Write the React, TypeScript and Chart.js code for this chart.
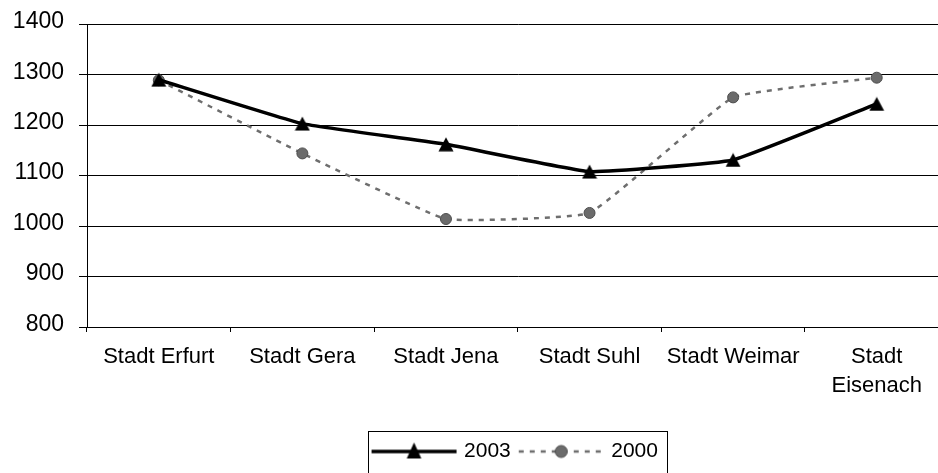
import React, { useEffect, useRef } from 'react';
import { Chart, registerables } from 'chart.js';

Chart.register(...registerables);

const categories: (string | string[])[] = [
  'Stadt Erfurt',
  'Stadt Gera',
  'Stadt Jena',
  'Stadt Suhl',
  'Stadt Weimar',
  ['Stadt', 'Eisenach'],
];
const seriesLabels = ['2003', '2000'];
const values2003 = [1290, 1203, 1162, 1108, 1131, 1242];
const values2000 = [1289, 1144, 1014, 1026, 1255, 1294];
const yMin = 800;
const yMax = 1400;
const yStep = 100;

const FONT = "'Liberation Sans', Arial, sans-serif";

function makeTriangle(w: number, h: number): HTMLCanvasElement {
  const c = document.createElement('canvas');
  c.width = w;
  c.height = h;
  const ctx = c.getContext('2d')!;
  ctx.fillStyle = '#000';
  ctx.beginPath();
  ctx.moveTo(w / 2, 0.5);
  ctx.lineTo(w - 0.5, h - 0.5);
  ctx.lineTo(0.5, h - 0.5);
  ctx.closePath();
  ctx.fill();
  return c;
}

function makeLegendSample(kind: 'solid' | 'dashed'): HTMLCanvasElement {
  const c = document.createElement('canvas');
  c.width = 90;
  c.height = 24;
  const ctx = c.getContext('2d')!;
  const y = 12;
  const x0 = 1;
  const x1 = 86;
  const cx = (x0 + x1) / 2;
  if (kind === 'solid') {
    ctx.strokeStyle = '#000';
    ctx.lineWidth = 3.5;
    ctx.beginPath();
    ctx.moveTo(x0, y);
    ctx.lineTo(x1, y);
    ctx.stroke();
    ctx.fillStyle = '#000';
    ctx.beginPath();
    ctx.moveTo(cx, y - 9);
    ctx.lineTo(cx + 7.3, y + 7);
    ctx.lineTo(cx - 7.3, y + 7);
    ctx.closePath();
    ctx.fill();
  } else {
    ctx.strokeStyle = '#6e6e6e';
    ctx.lineWidth = 2.5;
    ctx.setLineDash([5, 6]);
    ctx.beginPath();
    ctx.moveTo(x0, y);
    ctx.lineTo(x1, y);
    ctx.stroke();
    ctx.setLineDash([]);
    ctx.fillStyle = '#6b6b6b';
    ctx.strokeStyle = '#4d4d4d';
    ctx.lineWidth = 1;
    ctx.beginPath();
    ctx.arc(cx, y, 6, 0, Math.PI * 2);
    ctx.fill();
    ctx.stroke();
  }
  return c;
}

const legendBorder = {
  id: 'legendBorder',
  afterDraw(chart: any) {
    const lg = chart.legend;
    if (!lg || !lg.legendHitBoxes || !lg.legendHitBoxes.length) return;
    const hb = lg.legendHitBoxes;
    const first = hb[0];
    const last = hb[hb.length - 1];
    const left = first.left - 10;
    const right = last.left + last.width + 9;
    const top = first.top - 10;
    const bottom = top + 60;
    const ctx = chart.ctx;
    ctx.save();
    ctx.strokeStyle = '#000';
    ctx.lineWidth = 1;
    ctx.strokeRect(Math.round(left) + 0.5, Math.round(top) + 0.5, Math.round(right - left), Math.round(bottom - top));
    ctx.restore();
  },
};

export default function App() {
  const ref = useRef<HTMLCanvasElement>(null);

  useEffect(() => {
    if (!ref.current) return;
    const tri = makeTriangle(16, 15);
    const samples = [makeLegendSample('solid'), makeLegendSample('dashed')];
    Chart.defaults.font.family = FONT;

    const chart = new Chart(ref.current, {
      type: 'line',
      data: {
        labels: categories as any,
        datasets: [
          {
            label: seriesLabels[0],
            data: values2003,
            borderColor: '#000',
            backgroundColor: '#000',
            borderWidth: 3.5,
            tension: 0.1,
            pointStyle: tri as any,
            pointRadius: 8,
          },
          {
            label: seriesLabels[1],
            data: values2000,
            borderColor: '#6e6e6e',
            backgroundColor: '#6b6b6b',
            borderWidth: 2.5,
            borderDash: [5, 6],
            tension: 0.1,
            pointStyle: 'circle',
            pointRadius: 5.5,
            pointBackgroundColor: '#6b6b6b',
            pointBorderColor: '#4d4d4d',
            pointBorderWidth: 1,
          },
        ],
      },
      options: {
        responsive: false,
        animation: false,
        devicePixelRatio: 1,
        layout: { padding: { top: 10, left: 0, right: 10, bottom: 8 } },
        plugins: {
          tooltip: { enabled: false },
          legend: {
            position: 'bottom',
            fullSize: false,
            labels: {
              usePointStyle: true,
              pointStyleWidth: 76,
              padding: 14,
              color: '#000',
              font: { size: 21, family: FONT },
              generateLabels: (ch: any) => {
                const base = Chart.defaults.plugins.legend.labels.generateLabels(ch);
                return base.map((item: any, i: number) => ({ ...item, pointStyle: samples[i] }));
              },
            },
          },
        },
        scales: {
          x: {
            type: 'category',
            offset: true,
            afterFit: (s: any) => {
              s.height = 100;
            },
            grid: {
              offset: true,
              drawOnChartArea: false,
              drawTicks: true,
              tickLength: 5,
              color: '#000',
            },
            border: { color: '#000', width: 1 },
            ticks: {
              color: '#000',
              autoSkip: false,
              maxRotation: 0,
              padding: 10,
              font: { size: 22, family: FONT, lineHeight: 1.34 },
            },
          },
          y: {
            min: yMin,
            max: yMax,
            afterFit: (s: any) => {
              s.width = 87;
            },
            grid: { color: '#000', lineWidth: 1, tickLength: 8, drawTicks: true },
            border: { color: '#000', width: 1 },
            ticks: {
              stepSize: yStep,
              color: '#000',
              padding: 15,
              labelOffset: -2.5,
              font: { size: 23, family: FONT, lineHeight: 0.8 },
              callback: (v: any) => String(v),
            },
          },
        },
      },
      plugins: [legendBorder],
    });
    return () => chart.destroy();
  }, []);

  return (
    <div
      style={{
        position: 'fixed',
        left: 0,
        top: 0,
        width: 938,
        height: 473,
        overflow: 'hidden',
        background: '#fff',
      }}
    >
      <canvas ref={ref} width={960} height={480} style={{ display: 'block', width: 960, height: 480 }} />
    </div>
  );
}
